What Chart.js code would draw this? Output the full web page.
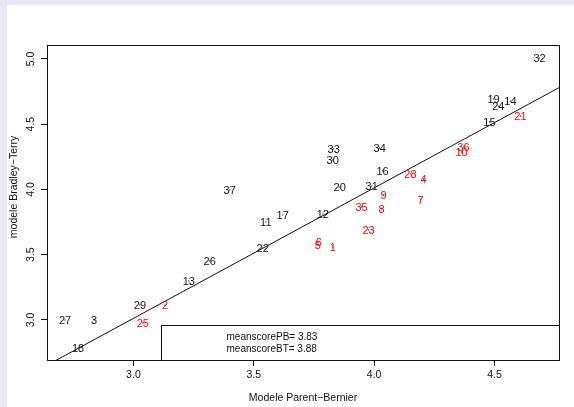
<!DOCTYPE html>
<html>
<head>
<meta charset="utf-8">
<script src="https://cdn.jsdelivr.net/npm/chart.js@4.4.1/dist/chart.umd.min.js"></script>
<style>
  html, body { margin: 0; padding: 0; }
  body { width: 574px; height: 407px; background: #e8e8f4; position: relative; overflow: hidden; }
  #wrap { position: absolute; left: 7px; top: 5px; width: 567px; height: 402px; background: #fff; }
</style>
</head>
<body>
<div id="wrap"><canvas id="scoreChart" width="567" height="402"></canvas></div>
<script>
// one entry per item, id 1..37
const ids = [1, 2, 3, 4, 5, 6, 7, 8, 9, 10, 11, 12, 13, 14, 15, 16, 17, 18, 19, 20,
             21, 22, 23, 24, 25, 26, 27, 28, 29, 30, 31, 32, 33, 34, 35, 36, 37];
const scoresPB = [3.828, 3.131, 2.836, 4.205, 3.766, 3.770, 4.193, 4.031, 4.039, 4.363,
                  3.550, 3.787, 3.230, 4.566, 4.479, 4.035, 3.620, 2.770, 4.496, 3.857,
                  4.608, 3.537, 3.977, 4.516, 3.039, 3.317, 2.716, 4.151, 3.027, 3.828,
                  3.990, 4.687, 3.832, 4.023, 3.948, 4.371, 3.400];
const scoresBT = [3.559, 3.115, 3.000, 4.080, 3.575, 3.598, 3.920, 3.851, 3.958, 4.287,
                  3.751, 3.812, 3.299, 4.678, 4.517, 4.142, 3.805, 2.785, 4.693, 4.019,
                  4.563, 3.552, 3.690, 4.640, 2.977, 3.452, 3.000, 4.119, 3.115, 4.226,
                  4.027, 5.008, 4.310, 4.318, 3.866, 4.326, 3.996];
// 1 = below the fitted line (red), 0 = above (black)
const below = [1, 1, 0, 1, 1, 1, 1, 1, 1, 1, 0, 0, 0, 0, 0, 0, 0, 0, 0, 0,
               1, 0, 1, 0, 1, 0, 0, 1, 0, 0, 0, 0, 0, 0, 1, 1, 0];

const lineX = [2.66, 4.77];
const lineY = [2.672, 4.782];

const xTicks = [3.0, 3.5, 4.0, 4.5];
const yTicks = [3.0, 3.5, 4.0, 4.5, 5.0];

const legendLines = ['meanscorePB= 3.83', 'meanscoreBT= 3.88'];
const legendCorner = { x: 3.114, y: 2.962 };

const FONT = '"Liberation Sans", Arial, sans-serif';

const rPlot = {
    id: 'rPlot',
    afterDatasetsDraw(chart) {
        const ctx = chart.ctx;
        const a = chart.chartArea;
        const xs = chart.scales.x, ys = chart.scales.y;
        ctx.save();

        // point labels
        const meta = chart.getDatasetMeta(0);
        ctx.font = '11px ' + FONT;
        ctx.textAlign = 'center';
        ctx.textBaseline = 'middle';
        meta.data.forEach((pt, i) => {
            ctx.fillStyle = below[i] ? '#ff0000' : '#111';
            ctx.fillText(String(ids[i]), pt.x, pt.y + 1);
        });

        // box round the plot
        ctx.strokeStyle = '#111';
        ctx.lineWidth = 1;
        ctx.strokeRect(Math.round(a.left) + 0.5, Math.round(a.top) + 0.5,
                       Math.round(a.right - a.left), Math.round(a.bottom - a.top));

        // legend box
        const bx = Math.round(xs.getPixelForValue(legendCorner.x)) + 0.5;
        const by = Math.round(ys.getPixelForValue(legendCorner.y)) + 0.5;
        ctx.strokeRect(bx, by, Math.round(a.right) - bx + 0.5, Math.round(a.bottom) - by + 0.5);
        ctx.fillStyle = '#111';
        ctx.font = '10px ' + FONT;
        ctx.textAlign = 'left';
        legendLines.forEach((t, i) => ctx.fillText(t, bx + 65, by + 12 + i * 12));

        // rotated y tick labels
        ctx.font = '10.5px ' + FONT;
        ctx.textAlign = 'center';
        ys.ticks.forEach(t => {
            ctx.save();
            ctx.translate(a.left - 16, ys.getPixelForValue(t.value));
            ctx.rotate(-Math.PI / 2);
            ctx.fillText(t.value.toFixed(1), 0, 0);
            ctx.restore();
        });

        // axis titles
        ctx.save();
        ctx.translate(7, 182);
        ctx.rotate(-Math.PI / 2);
        ctx.fillText('modele Bradley\u2212Terry', 0, 0);
        ctx.restore();
        ctx.fillText('Modele Parent\u2212Bernier', (a.left + a.right) / 2, 393);

        ctx.restore();
    }
};

new Chart(document.getElementById('scoreChart'), {
    type: 'scatter',
    data: {
        datasets: [{
            label: 'items',
            data: ids.map((id, i) => ({ x: scoresPB[i], y: scoresBT[i] })),
            pointRadius: 0.7,
            pointHoverRadius: 0.7,
            pointBackgroundColor: '#333',
            pointBorderWidth: 0
        }, {
            label: 'droite',
            data: lineX.map((v, i) => ({ x: v, y: lineY[i] })),
            showLine: true,
            borderColor: '#111',
            borderWidth: 1,
            pointRadius: 0,
            fill: false
        }]
    },
    options: {
        responsive: false,
        animation: false,
        events: [],
        layout: { padding: { top: 40, right: 15, left: 0, bottom: 0 } },
        plugins: { legend: { display: false }, tooltip: { enabled: false } },
        scales: {
            x: {
                type: 'linear',
                min: 2.641,
                max: 4.768,
                afterBuildTicks: s => { s.ticks = xTicks.map(v => ({ value: v })); },
                afterFit: s => { s.height = 47; },
                grid: { drawOnChartArea: false, drawTicks: true, tickLength: 6, color: '#111' },
                border: { display: true, color: '#111' },
                ticks: {
                    color: '#111',
                    padding: 3,
                    maxRotation: 0,
                    font: { family: FONT, size: 10.5 },
                    callback: v => Number(v).toFixed(1)
                }
            },
            y: {
                type: 'linear',
                min: 2.693,
                max: 5.107,
                afterBuildTicks: s => { s.ticks = yTicks.map(v => ({ value: v })); },
                afterFit: s => { s.width = 40; },
                grid: { drawOnChartArea: false, drawTicks: true, tickLength: 6, color: '#111' },
                border: { display: true, color: '#111' },
                ticks: { display: false }
            }
        }
    },
    plugins: [rPlot]
});
</script>
</body>
</html>
